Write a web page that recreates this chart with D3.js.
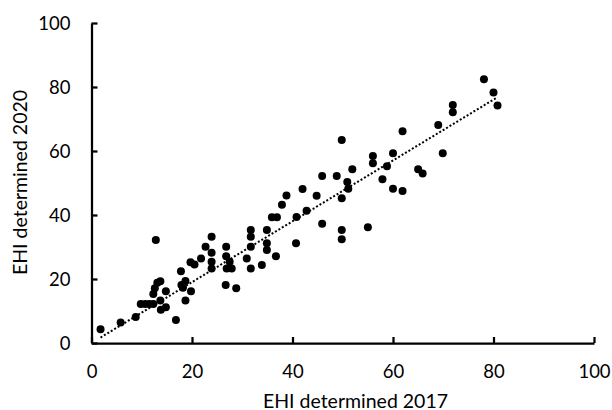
<!DOCTYPE html>
<html>
<head>
<meta charset="utf-8">
<script src="https://cdn.jsdelivr.net/npm/d3@7"></script>
<style>
  html, body { margin: 0; padding: 0; background: #fff; }
  svg { display: block; }
  text { font-family: Lato, "Open Sans", sans-serif; fill: #000; }
</style>
</head>
<body>
<svg id="chart" width="612" height="410"></svg>
<script>
// EHI scores of the same sites, determined in 2017 (x) and in 2020 (y)
const ehi2017 = [
  1.8, 5.8, 8.8, 9.8, 10.7, 11.5, 12.3, 12.8, 12.3, 12.6,
  13.1, 13.7, 13.7, 13.8, 14.8, 14.8, 16.8, 17.8, 17.9, 18.2,
  18.7, 18.7, 19.8, 19.7, 20.5, 21.8, 22.7, 23.9, 23.9, 23.9,
  23.9, 26.8, 26.8, 27.5, 26.9, 27.9, 26.7, 28.8, 30.9, 31.7,
  31.7, 31.7, 31.7, 33.9, 34.9, 34.9, 34.9, 36.7, 35.9, 36.9,
  37.9, 38.8, 40.7, 40.8, 42.0, 42.8, 44.8, 45.9, 45.9, 48.8,
  49.8, 49.8, 49.8, 49.8, 50.9, 51.1, 51.9, 55.0, 56.0, 56.0,
  57.9, 58.8, 60.0, 60.0, 61.9, 61.9, 65.0, 65.9, 69.0, 69.9,
  71.9, 71.9, 78.1, 80.0, 80.8
];
const ehi2020 = [
  4.3, 6.4, 8.1, 12.2, 12.2, 12.2, 12.2, 32.2, 15.3, 17.1,
  18.8, 19.3, 13.3, 10.4, 11.2, 16.2, 7.2, 22.4, 18.1, 17.3,
  19.4, 13.3, 16.2, 25.2, 24.5, 26.4, 30.1, 33.2, 28.2, 25.4,
  23.3, 30.1, 27.1, 25.4, 23.3, 23.3, 18.1, 17.1, 26.4, 35.3,
  33.2, 30.1, 23.3, 24.4, 35.3, 31.2, 29.1, 27.1, 39.3, 39.3,
  43.2, 46.1, 31.2, 39.4, 48.1, 41.3, 46.0, 52.2, 37.3, 52.2,
  63.4, 45.2, 35.3, 32.4, 50.3, 48.2, 54.3, 36.2, 58.4, 56.2,
  51.2, 55.2, 59.3, 48.2, 47.5, 66.2, 54.3, 53.0, 68.1, 59.3,
  74.4, 72.1, 82.4, 78.3, 74.2
];
const xTicks = [0, 20, 40, 60, 80, 100];
const yTicks = [0, 20, 40, 60, 80, 100];
const xTitle = "EHI determined 2017";
const yTitle = "EHI determined 2020";

const points = ehi2017.map((v, i) => ({ x: v, y: ehi2020[i] }));

const svg = d3.select("#chart");

const x = d3.scaleLinear().domain([0, 100]).range([91.5, 594]);
const y = d3.scaleLinear().domain([0, 100]).range([343, 23]);

const FONT = "Lato, 'Open Sans', sans-serif";

// Axes: ticks point into the plot, labels sit outside
const xAxis = svg.append("g")
  .attr("transform", `translate(0,${y(0)})`)
  .call(d3.axisBottom(x).tickValues(xTicks).tickSizeInner(-6).tickSizeOuter(0).tickPadding(22));
const yAxis = svg.append("g")
  .attr("transform", `translate(${x(0)},0)`)
  .call(d3.axisLeft(y).tickValues(yTicks).tickSizeInner(-6).tickSizeOuter(0).tickPadding(21));

[xAxis, yAxis].forEach(g => {
  g.select(".domain").attr("stroke", "#000").attr("stroke-width", 2.25);
  g.selectAll(".tick line").attr("stroke", "#000").attr("stroke-width", 2.25);
  g.selectAll(".tick text").attr("font-size", 18.5).attr("font-family", FONT).attr("fill", "#000");
});
yAxis.selectAll(".tick text").attr("dy", "0.36em");

// Linear trend line through the origin (y = b·x), across the observed 2017 range
const slope = d3.sum(points, d => d.x * d.y) / d3.sum(points, d => d.x * d.x);
const [xmin, xmax] = d3.extent(points, d => d.x);

svg.append("line")
  .attr("x1", x(xmin)).attr("y1", y(slope * xmin))
  .attr("x2", x(xmax)).attr("y2", y(slope * xmax))
  .attr("stroke", "#000")
  .attr("stroke-width", 2)
  .attr("stroke-dasharray", "2 2");

// Data points
svg.append("g").selectAll("circle")
  .data(points)
  .join("circle")
  .attr("cx", d => x(d.x))
  .attr("cy", d => y(d.y))
  .attr("r", 4)
  .attr("fill", "#000");

// Axis titles
svg.append("text")
  .attr("x", 355.5).attr("y", 407.5)
  .attr("text-anchor", "middle")
  .attr("font-size", 19.5)
  .text(xTitle);

svg.append("text")
  .attr("transform", `translate(26.5,182.5) rotate(-90)`)
  .attr("text-anchor", "middle")
  .attr("font-size", 19.5)
  .text(yTitle);
</script>
</body>
</html>
